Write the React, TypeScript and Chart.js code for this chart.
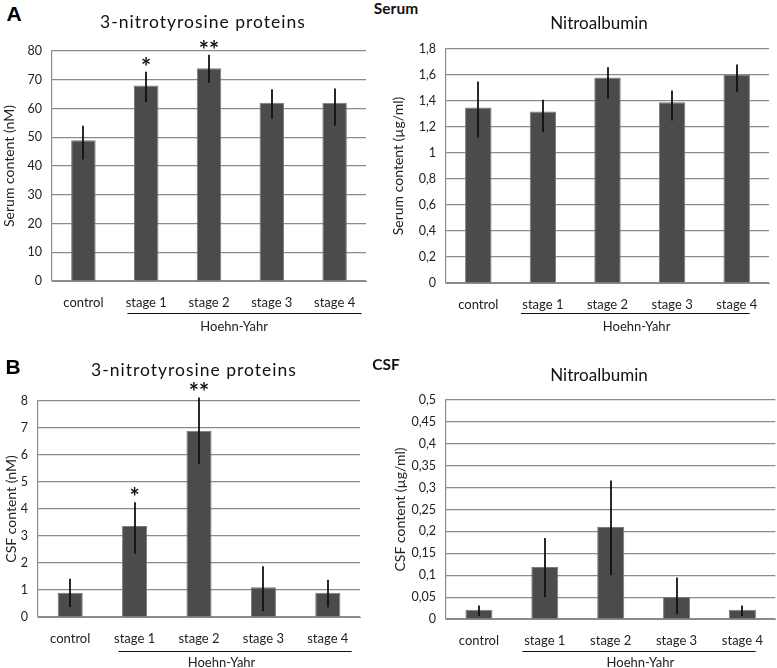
import React, { useEffect, useRef } from "react";
import { Chart, registerables } from "chart.js";

Chart.register(...registerables);

const categories = ["control", "stage 1", "stage 2", "stage 3", "stage 4"];

// Serum, 3-nitrotyrosine proteins (nM)
const serumNitroTyrMean = [49, 68, 74, 62, 62];
const serumNitroTyrLow = [42.3, 62.3, 69, 56.5, 54];
const serumNitroTyrHigh = [54, 72.8, 78.7, 66.7, 67];
const serumNitroTyrSig = ["", "*", "**", "", ""];

// Serum, Nitroalbumin (µg/ml)
const serumAlbMean = [1.35, 1.32, 1.58, 1.39, 1.6];
const serumAlbLow = [1.12, 1.16, 1.42, 1.25, 1.47];
const serumAlbHigh = [1.55, 1.41, 1.66, 1.48, 1.68];
const serumAlbSig = ["", "", "", "", ""];

// CSF, 3-nitrotyrosine proteins (nM)
const csfNitroTyrMean = [0.9, 3.37, 6.9, 1.1, 0.9];
const csfNitroTyrLow = [0.37, 2.34, 5.67, 0.21, 0.36];
const csfNitroTyrHigh = [1.42, 4.25, 8.13, 1.88, 1.38];
const csfNitroTyrSig = ["", "*", "**", "", ""];

// CSF, Nitroalbumin (µg/ml)
const csfAlbMean = [0.021, 0.119, 0.21, 0.05, 0.021];
const csfAlbLow = [0.007, 0.05, 0.1, 0.011, 0.007];
const csfAlbHigh = [0.031, 0.185, 0.316, 0.095, 0.031];
const csfAlbSig = ["", "", "", "", ""];

const groupLabel = "Hoehn-Yahr";
const FONT = "Lato, 'Open Sans', sans-serif";
const GRID = "#8a8a8a";

const fmt = (v: number) => {
  const n = Number(Number(v).toFixed(3));
  return String(n).replace(".", ",");
};

const overlayPlugin = {
  id: "overlay",
  afterDatasetsDraw(chart: any, _args: any, opts: any) {
    const ctx = chart.ctx;
    const x = chart.scales.x;
    const y = chart.scales.y;
    ctx.save();
    // error bars
    ctx.strokeStyle = "#111";
    ctx.lineWidth = 1.8;
    (opts.low as number[]).forEach((lo, i) => {
      const px = Math.round(x.getPixelForValue(i));
      ctx.beginPath();
      ctx.moveTo(px, y.getPixelForValue(lo));
      ctx.lineTo(px, y.getPixelForValue(opts.high[i]));
      ctx.stroke();
    });
    // significance stars
    ctx.fillStyle = "#111";
    ctx.font = `bold 24px ${FONT}`;
    ctx.textAlign = "center";
    ctx.textBaseline = "alphabetic";
    (opts.sig as string[]).forEach((s, i) => {
      if (!s) return;
      ctx.fillText(s, x.getPixelForValue(i), y.getPixelForValue(opts.high[i]) + 4);
    });
    // Hoehn-Yahr bracket
    const l = x.getPixelForValue(opts.hyFrom);
    const r = x.getPixelForValue(opts.hyTo);
    ctx.strokeStyle = "#111";
    ctx.lineWidth = 1.2;
    ctx.beginPath();
    ctx.moveTo(l, opts.hyLineY + 0.5);
    ctx.lineTo(r, opts.hyLineY + 0.5);
    ctx.stroke();
    ctx.fillStyle = "#222";
    ctx.font = `13px ${FONT}`;
    ctx.textBaseline = "middle";
    ctx.fillText(groupLabel, x.getPixelForValue(opts.hyTextAt), opts.hyTextY);
    ctx.restore();
  },
};

type PanelProps = {
  left: number;
  top: number;
  width: number;
  height: number;
  yAxisWidth: number;
  padTop: number;
  padRight: number;
  xAxisHeight: number;
  mean: number[];
  low: number[];
  high: number[];
  sig: string[];
  yMax: number;
  yStep: number;
  yTitle: string;
  yTitlePad: number;
  barPct: number;
  hyLineY: number;
  hyTextY: number;
  hyFrom: number;
  hyTo: number;
  hyTextAt: number;
};

function Panel(p: PanelProps) {
  const ref = useRef<HTMLCanvasElement>(null);
  useEffect(() => {
    if (!ref.current) return;
    const chart = new Chart(ref.current, {
      type: "bar",
      data: {
        labels: categories,
        datasets: [
          {
            data: p.mean,
            backgroundColor: "#4b4b4b",
            borderColor: "#7a7a7a",
            borderWidth: 1,
            barPercentage: p.barPct,
            categoryPercentage: 1,
          },
        ],
      },
      options: {
        responsive: false,
        animation: false,
        devicePixelRatio: 1,
        layout: { padding: { top: p.padTop, right: p.padRight, left: 0, bottom: 0 } },
        plugins: {
          legend: { display: false },
          tooltip: { enabled: false },
          title: { display: false },
          overlay: {
            low: p.low,
            high: p.high,
            sig: p.sig,
            hyLineY: p.hyLineY,
            hyTextY: p.hyTextY,
            hyFrom: p.hyFrom,
            hyTo: p.hyTo,
            hyTextAt: p.hyTextAt,
          },
        } as any,
        scales: {
          x: {
            grid: { display: false, drawTicks: false },
            border: { display: true, color: GRID, width: 1 },
            ticks: {
              font: { family: FONT, size: 13 },
              color: "#222",
              padding: 14,
              maxRotation: 0,
              autoSkip: false,
            },
            afterFit: (s: any) => {
              s.height = p.xAxisHeight;
            },
          },
          y: {
            min: 0,
            max: p.yMax,
            ticks: {
              stepSize: p.yStep,
              callback: (v: any) => fmt(v),
              font: { family: FONT, size: 12.5 },
              color: "#222",
              padding: 10,
            },
            grid: { color: GRID, lineWidth: 1.2, drawTicks: false },
            border: { display: true, color: GRID, width: 1.2 },
            title: {
              display: true,
              text: p.yTitle,
              font: { family: FONT, size: 14 },
              color: "#222",
              padding: { top: p.yTitlePad, bottom: 0 },
            },
            afterFit: (s: any) => {
              s.width = p.yAxisWidth;
            },
          },
        },
      } as any,
      plugins: [overlayPlugin],
    });
    return () => chart.destroy();
  }, []);
  return (
    <canvas
      ref={ref}
      width={p.width}
      height={p.height}
      style={{ position: "absolute", left: p.left, top: p.top, width: p.width, height: p.height }}
    />
  );
}

const textStyle = (
  x: number,
  y: number,
  size: number,
  weight: number | string = "normal",
  family = FONT,
  spacing = 0
): React.CSSProperties => ({
  position: "absolute",
  left: x,
  top: y,
  transform: "translate(-50%, -50%)",
  fontFamily: family,
  fontSize: size,
  fontWeight: weight as any,
  letterSpacing: spacing,
  color: "#111",
  whiteSpace: "nowrap",
  lineHeight: 1,
});

export default function App() {
  return (
    <div
      style={{
        position: "absolute",
        left: 0,
        top: 0,
        width: 777,
        height: 668,
        background: "#fff",
        overflow: "hidden",
      }}
    >
      <Panel
        left={0} top={30} width={385} height={305}
        yAxisWidth={52} padTop={21} padRight={19} xAxisHeight={54}
        mean={serumNitroTyrMean} low={serumNitroTyrLow} high={serumNitroTyrHigh} sig={serumNitroTyrSig}
        yMax={80} yStep={10} yTitle="Serum content (nM)" yTitlePad={1}
        barPct={0.39}
        hyLineY={283} hyTextY={297} hyFrom={0.7} hyTo={4.43} hyTextAt={2.4}
      />
      <Panel
        left={385} top={30} width={392} height={305}
        yAxisWidth={61} padTop={19} padRight={8} xAxisHeight={52}
        mean={serumAlbMean} low={serumAlbLow} high={serumAlbHigh} sig={serumAlbSig}
        yMax={1.8} yStep={0.2} yTitle="Serum content (µg/ml)" yTitlePad={5}
        barPct={0.41}
        hyLineY={283} hyTextY={297} hyFrom={0.66} hyTo={4.2} hyTextAt={2.45}
      />
      <Panel
        left={0} top={370} width={385} height={298}
        yAxisWidth={38} padTop={31} padRight={25} xAxisHeight={51}
        mean={csfNitroTyrMean} low={csfNitroTyrLow} high={csfNitroTyrHigh} sig={csfNitroTyrSig}
        yMax={8} yStep={1} yTitle="CSF content (nM)" yTitlePad={3}
        barPct={0.39}
        hyLineY={281} hyTextY={293} hyFrom={0.75} hyTo={4.37} hyTextAt={2.35}
      />
      <Panel
        left={385} top={370} width={392} height={298}
        yAxisWidth={61} padTop={30} padRight={0} xAxisHeight={49}
        mean={csfAlbMean} low={csfAlbLow} high={csfAlbHigh} sig={csfAlbSig}
        yMax={0.5} yStep={0.05} yTitle="CSF content (µg/ml)" yTitlePad={7}
        barPct={0.41}
        hyLineY={281} hyTextY={293} hyFrom={0.66} hyTo={4.2} hyTextAt={2.45}
      />

      <div style={{ ...textStyle(14, 13, 21, "bold", "'Liberation Sans', Arial, sans-serif"), color: "#000" }}>A</div>
      <div style={{ ...textStyle(13, 366, 21, "bold", "'Liberation Sans', Arial, sans-serif"), color: "#000" }}>B</div>
      <div style={textStyle(396, 9, 15.5, "bold")}>Serum</div>
      <div style={textStyle(386, 365, 15.5, "bold")}>CSF</div>

      <div style={textStyle(203, 22, 17.5, "normal", FONT, 1)}>3-nitrotyrosine proteins</div>
      <div style={textStyle(599, 22, 17)}>Nitroalbumin</div>
      <div style={textStyle(194, 370, 17.5, "normal", FONT, 1)}>3-nitrotyrosine proteins</div>
      <div style={textStyle(599, 374, 17)}>Nitroalbumin</div>
    </div>
  );
}
